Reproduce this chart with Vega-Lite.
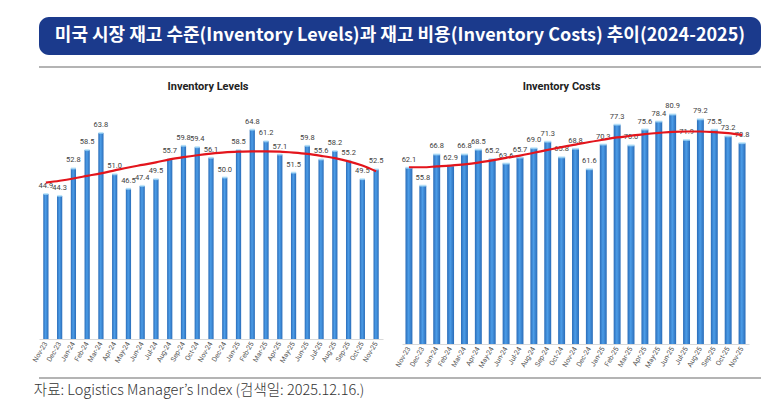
{
  "$schema": "https://vega.github.io/schema/vega-lite/v6.json",
  "background": "white",
  "padding": {"left": 30, "top": 17, "right": 10, "bottom": 2},
  "datasets": {
    "levels": [
      {"month": "Nov-23", "value": 44.9, "trend": 48.4},
      {"month": "Dec-23", "value": 44.3, "trend": 49.0},
      {"month": "Jan-24", "value": 52.8, "trend": 49.7},
      {"month": "Feb-24", "value": 58.5, "trend": 50.5},
      {"month": "Mar-24", "value": 63.8, "trend": 51.3},
      {"month": "Apr-24", "value": 51.0, "trend": 52.2},
      {"month": "May-24", "value": 46.5, "trend": 53.1},
      {"month": "Jun-24", "value": 47.4, "trend": 53.9},
      {"month": "Jul-24", "value": 49.5, "trend": 54.7},
      {"month": "Aug-24", "value": 55.7, "trend": 55.6},
      {"month": "Sep-24", "value": 59.8, "trend": 56.3},
      {"month": "Oct-24", "value": 59.4, "trend": 56.9},
      {"month": "Nov-24", "value": 56.1, "trend": 57.4},
      {"month": "Dec-24", "value": 50.0, "trend": 57.8},
      {"month": "Jan-25", "value": 58.5, "trend": 58.0},
      {"month": "Feb-25", "value": 64.8, "trend": 58.1},
      {"month": "Mar-25", "value": 61.2, "trend": 58.1},
      {"month": "Apr-25", "value": 57.1, "trend": 58.0},
      {"month": "May-25", "value": 51.5, "trend": 57.7},
      {"month": "Jun-25", "value": 59.8, "trend": 57.3},
      {"month": "Jul-25", "value": 55.6, "trend": 56.7},
      {"month": "Aug-25", "value": 58.2, "trend": 56.0},
      {"month": "Sep-25", "value": 55.2, "trend": 55.0},
      {"month": "Oct-25", "value": 49.5, "trend": 53.7},
      {"month": "Nov-25", "value": 52.5, "trend": 51.9}
    ],
    "costs": [
      {"month": "Nov-23", "value": 62.1, "trend": 62.3},
      {"month": "Dec-23", "value": 55.8, "trend": 62.3},
      {"month": "Jan-24", "value": 66.8, "trend": 62.6},
      {"month": "Feb-24", "value": 62.9, "trend": 62.9},
      {"month": "Mar-24", "value": 66.8, "trend": 63.3},
      {"month": "Apr-24", "value": 68.5, "trend": 63.9},
      {"month": "May-24", "value": 65.2, "trend": 64.7},
      {"month": "Jun-24", "value": 63.6, "trend": 65.6},
      {"month": "Jul-24", "value": 65.7, "trend": 66.4},
      {"month": "Aug-24", "value": 69.0, "trend": 67.4},
      {"month": "Sep-24", "value": 71.3, "trend": 68.4},
      {"month": "Oct-24", "value": 65.8, "trend": 69.4},
      {"month": "Nov-24", "value": 68.8, "trend": 70.3},
      {"month": "Dec-24", "value": 61.6, "trend": 71.2},
      {"month": "Jan-25", "value": 70.3, "trend": 72.0},
      {"month": "Feb-25", "value": 77.3, "trend": 72.8},
      {"month": "Mar-25", "value": 70.0, "trend": 73.4},
      {"month": "Apr-25", "value": 75.6, "trend": 74.0},
      {"month": "May-25", "value": 78.4, "trend": 74.4},
      {"month": "Jun-25", "value": 80.9, "trend": 74.8},
      {"month": "Jul-25", "value": 71.9, "trend": 74.9},
      {"month": "Aug-25", "value": 79.2, "trend": 74.9},
      {"month": "Sep-25", "value": 75.5, "trend": 74.7},
      {"month": "Oct-25", "value": 73.2, "trend": 74.3},
      {"month": "Nov-25", "value": 70.8, "trend": 73.7}
    ]
  },
  "title": {
    "text": "자료: Logistics Manager’s Index (검색일: 2025.12.16.)",
    "orient": "bottom",
    "anchor": "start",
    "font": "Noto Sans CJK KR",
    "fontSize": 14.5,
    "fontWeight": 300,
    "color": "#333333",
    "offset": 1,
    "dx": 3
  },
  "spacing": 9,
  "vconcat": [
    {
      "spacing": 6,
      "vconcat": [
        {
          "width": 722,
          "height": 38,
          "view": {"fill": "#1b3a8c", "cornerRadius": 10, "stroke": null},
          "data": {"values": [{"t": "미국 시장 재고 수준(Inventory Levels)과 재고 비용(Inventory Costs) 추이(2024-2025)"}]},
          "mark": {"type": "text", "color": "white", "font": "Noto Sans CJK KR", "fontWeight": "bold", "fontSize": 18, "align": "center", "baseline": "middle"},
          "encoding": {"text": {"field": "t"}}
        },
        {
          "width": 722,
          "height": 2,
          "view": {"fill": "#b4b4b4", "stroke": null},
          "data": {"values": [{"t": ""}]},
          "mark": {"type": "text"},
          "encoding": {"text": {"field": "t"}}
        }
      ]
    },
    {
      "spacing": 3,
      "vconcat": [
        {
          "spacing": 19,
          "bounds": "flush",
          "hconcat": [
            {
              "width": 344,
              "height": 239,
              "title": {"text": "Inventory Levels", "font": "Liberation Sans Narrow, Roboto, sans-serif", "fontSize": 11, "fontWeight": "bold", "color": "#222222", "offset": 8, "dx": -3},
              "data": {"name": "levels"},
              "encoding": {
                "x": {"field": "month", "type": "ordinal", "sort": null, "scale": {"paddingInner": 0.62, "paddingOuter": 0.31}}
              },
              "layer": [
                {
                  "mark": {"type": "bar", "color": {"gradient": "linear", "x1": 0, "y1": 0, "x2": 1, "y2": 0, "stops": [{"offset": 0, "color": "#2a6cb8"}, {"offset": 0.45, "color": "#4c9de8"}, {"offset": 1, "color": "#2a6cb8"}]}},
                  "encoding": {"y": {"field": "value", "type": "quantitative", "scale": {"domain": [0, 74], "nice": false}, "axis": null}}
                },
                {
                  "mark": {"type": "tick", "color": "#a6dcf8", "thickness": 2, "size": 5},
                  "encoding": {"y": {"field": "value", "type": "quantitative"}}
                },
                {
                  "mark": {"type": "text", "dy": -8, "fontSize": 7.5, "color": "#404040", "font": "Liberation Sans Narrow, Roboto, sans-serif"},
                  "encoding": {"y": {"field": "value", "type": "quantitative"}, "text": {"field": "value", "type": "quantitative", "format": ".1f"}}
                },
                {
                  "mark": {"type": "line", "color": "#e3151c", "strokeWidth": 2.2, "interpolate": "monotone"},
                  "encoding": {"y": {"field": "trend", "type": "quantitative"}}
                }
              ]
            },
            {
              "width": 347,
              "height": 244,
              "title": {"text": "Inventory Costs", "font": "Liberation Sans Narrow, Roboto, sans-serif", "fontSize": 11, "fontWeight": "bold", "color": "#222222", "offset": 8, "dx": -14},
              "data": {"name": "costs"},
              "encoding": {
                "x": {"field": "month", "type": "ordinal", "sort": null, "scale": {"paddingInner": 0.5, "paddingOuter": 0.25}}
              },
              "layer": [
                {
                  "mark": {"type": "bar", "color": {"gradient": "linear", "x1": 0, "y1": 0, "x2": 1, "y2": 0, "stops": [{"offset": 0, "color": "#2a6cb8"}, {"offset": 0.45, "color": "#4c9de8"}, {"offset": 1, "color": "#2a6cb8"}]}},
                  "encoding": {"y": {"field": "value", "type": "quantitative", "scale": {"domain": [0, 86], "nice": false}, "axis": null}}
                },
                {
                  "mark": {"type": "tick", "color": "#a6dcf8", "thickness": 2, "size": 7},
                  "encoding": {"y": {"field": "value", "type": "quantitative"}}
                },
                {
                  "mark": {"type": "text", "dy": -8, "fontSize": 7.5, "color": "#404040", "font": "Liberation Sans Narrow, Roboto, sans-serif"},
                  "encoding": {"y": {"field": "value", "type": "quantitative"}, "text": {"field": "value", "type": "quantitative", "format": ".1f"}}
                },
                {
                  "mark": {"type": "line", "color": "#e3151c", "strokeWidth": 2.2, "interpolate": "monotone"},
                  "encoding": {"y": {"field": "trend", "type": "quantitative"}}
                }
              ]
            }
          ]
        },
        {
          "width": 722,
          "height": 2,
          "view": {"fill": "#b4b4b4", "stroke": null},
          "data": {"values": [{"t": ""}]},
          "mark": {"type": "text"},
          "encoding": {"text": {"field": "t"}}
        }
      ]
    }
  ],
  "config": {
    "view": {"stroke": null},
    "axis": {
      "title": null,
      "ticks": false,
      "domainColor": "#d9d9d9",
      "labelAngle": -60,
      "labelFontSize": 7,
      "labelColor": "#555555",
      "labelFont": "Liberation Sans Narrow, Roboto, sans-serif",
      "labelPadding": 3
    }
  }
}
